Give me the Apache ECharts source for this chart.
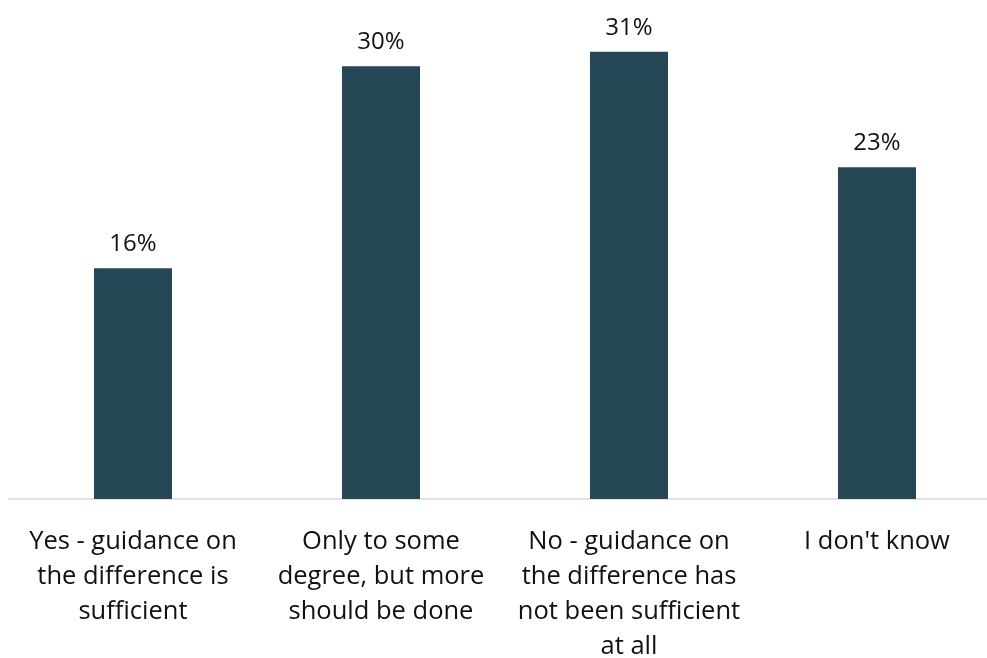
<!DOCTYPE html>
<html>
<head>
<meta charset="utf-8">
<script src="https://cdn.jsdelivr.net/npm/echarts@6/dist/echarts.min.js"></script>
<style>
  html, body { margin: 0; padding: 0; background: #ffffff; }
  #chart { width: 987px; height: 658px; }
</style>
</head>
<body>
<div id="chart"></div>
<script>
// Survey answers (category labels with line breaks) and the share of respondents, in %
const categories = [
  'Yes - guidance on\nthe difference is\nsufficient',
  'Only to some\ndegree, but more\nshould be done',
  'No - guidance on\nthe difference has\nnot been sufficient\nat all',
  "I don't know"
];
const shares = [16, 30, 31, 23];

const FONT = '"Open Sans", "Noto Sans", sans-serif';
const chart = echarts.init(document.getElementById('chart'));

chart.setOption({
  backgroundColor: '#ffffff',
  animation: false,
  grid: {
    left: 9, width: 992, top: -6, bottom: 159,
    containLabel: false,
    outerBoundsMode: 'none'
  },
  xAxis: {
    type: 'category',
    data: categories,
    axisLine: { show: true, lineStyle: { color: '#d9d9d9', width: 1.5 } },
    axisTick: { show: false },
    axisLabel: {
      interval: 0,
      margin: 25,
      color: '#111111',
      fontFamily: FONT,
      fontSize: 25.5,
      lineHeight: 35,
      align: 'center'
    }
  },
  yAxis: {
    type: 'value',
    min: 0,
    max: 35,
    show: false,
    splitLine: { show: false }
  },
  series: [{
    type: 'bar',
    data: shares,
    barWidth: 78,
    itemStyle: { color: '#264756' },
    label: {
      show: true,
      position: 'top',
      distance: 12,
      formatter: p => p.value + '%',
      color: '#111111',
      fontFamily: FONT,
      fontSize: 24
    }
  }]
});
</script>
</body>
</html>
